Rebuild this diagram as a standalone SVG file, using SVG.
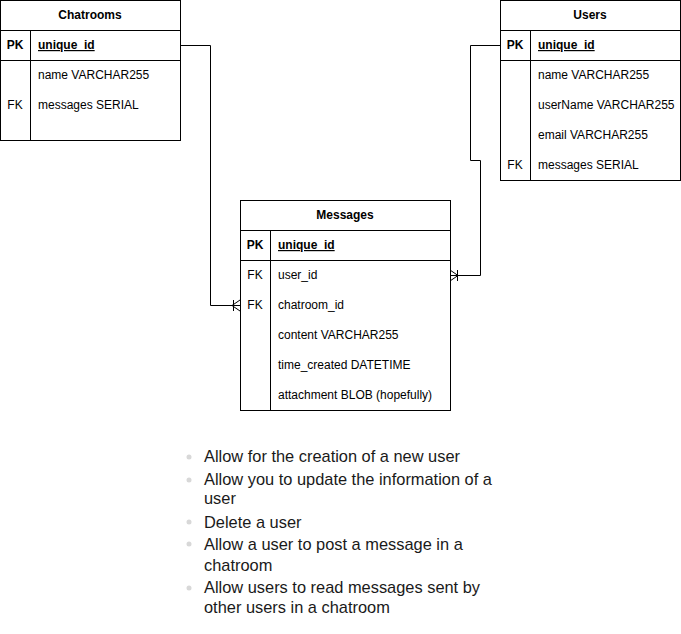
<svg xmlns="http://www.w3.org/2000/svg" width="681" height="634" viewBox="0 0 681 634">
<style>
.box{fill:#fff;stroke:#000;stroke-width:1}
.ln{stroke:#000;stroke-width:1;fill:none}
.t{font-family:"Liberation Sans",Arial,sans-serif;font-size:12px;fill:#000}
.b{font-weight:bold}
.c{text-anchor:middle}
.u{text-decoration:underline}
.li{font-family:"Liberation Sans",Arial,sans-serif;font-size:16.4px;fill:#1a1a1a}
.dot{fill:#d8d8d8}
</style>
<rect width="681" height="634" fill="#fff"/>
<g id="connectors">
<path class="ln" d="M180.5 45.5H210.5V305.5H240"/>
<path class="ln" d="M233.5 300V311M240 300L232 305.5L240 311"/>
<path class="ln" d="M500 45.5H470.5V160.5H480.5V275.5H450"/>
<path class="ln" d="M457.5 270V281M450 270L458 275.5L450 281"/>
</g>
<g id="chatrooms">
<rect class="box" x="0.5" y="0.5" width="180" height="140"/>
<path class="ln" d="M0.5 30.5H180.5M0.5 60.5H180.5M30.5 30.5V140.5"/>
<text class="t b c" x="90" y="19">Chatrooms</text>
<text class="t b c" x="15" y="49">PK</text>
<text class="t b u" x="38" y="49">unique_id</text>
<text class="t" x="38" y="79">name VARCHAR255</text>
<text class="t c" x="15" y="109">FK</text>
<text class="t" x="38" y="109">messages SERIAL</text>
</g>
<g id="users">
<rect class="box" x="500.5" y="0.5" width="180" height="180"/>
<path class="ln" d="M500.5 30.5H680.5M500.5 60.5H680.5M530.5 30.5V180.5"/>
<text class="t b c" x="590" y="19">Users</text>
<text class="t b c" x="515" y="49">PK</text>
<text class="t b u" x="538" y="49">unique_id</text>
<text class="t" x="538" y="79">name VARCHAR255</text>
<text class="t" x="538" y="109">userName VARCHAR255</text>
<text class="t" x="538" y="139">email VARCHAR255</text>
<text class="t c" x="515" y="169">FK</text>
<text class="t" x="538" y="169">messages SERIAL</text>
</g>
<g id="messages">
<rect class="box" x="240.5" y="200.5" width="210" height="210"/>
<path class="ln" d="M240.5 230.5H450.5M240.5 260.5H450.5M270.5 230.5V410.5"/>
<text class="t b c" x="345" y="219">Messages</text>
<text class="t b c" x="255" y="249">PK</text>
<text class="t b u" x="278" y="249">unique_id</text>
<text class="t c" x="255" y="279">FK</text>
<text class="t" x="278" y="279">user_id</text>
<text class="t c" x="255" y="309">FK</text>
<text class="t" x="278" y="309">chatroom_id</text>
<text class="t" x="278" y="339">content VARCHAR255</text>
<text class="t" x="278" y="369">time_created DATETIME</text>
<text class="t" x="278" y="399">attachment BLOB (hopefully)</text>
</g>
<g id="requirements">
<circle class="dot" cx="189" cy="457" r="2.5"/>
<circle class="dot" cx="189" cy="480" r="2.5"/>
<circle class="dot" cx="189" cy="522" r="2.5"/>
<circle class="dot" cx="189" cy="544" r="2.5"/>
<circle class="dot" cx="189" cy="588" r="2.5"/>
<text class="li" x="204" y="462">Allow for the creation of a new user</text>
<text class="li" x="204" y="485">Allow you to update the information of a</text>
<text class="li" x="204" y="504">user</text>
<text class="li" x="204" y="528">Delete a user</text>
<text class="li" x="204" y="550">Allow a user to post a message in a</text>
<text class="li" x="204" y="571">chatroom</text>
<text class="li" x="204" y="593">Allow users to read messages sent by</text>
<text class="li" x="204" y="613">other users in a chatroom</text>
</g>
</svg>
